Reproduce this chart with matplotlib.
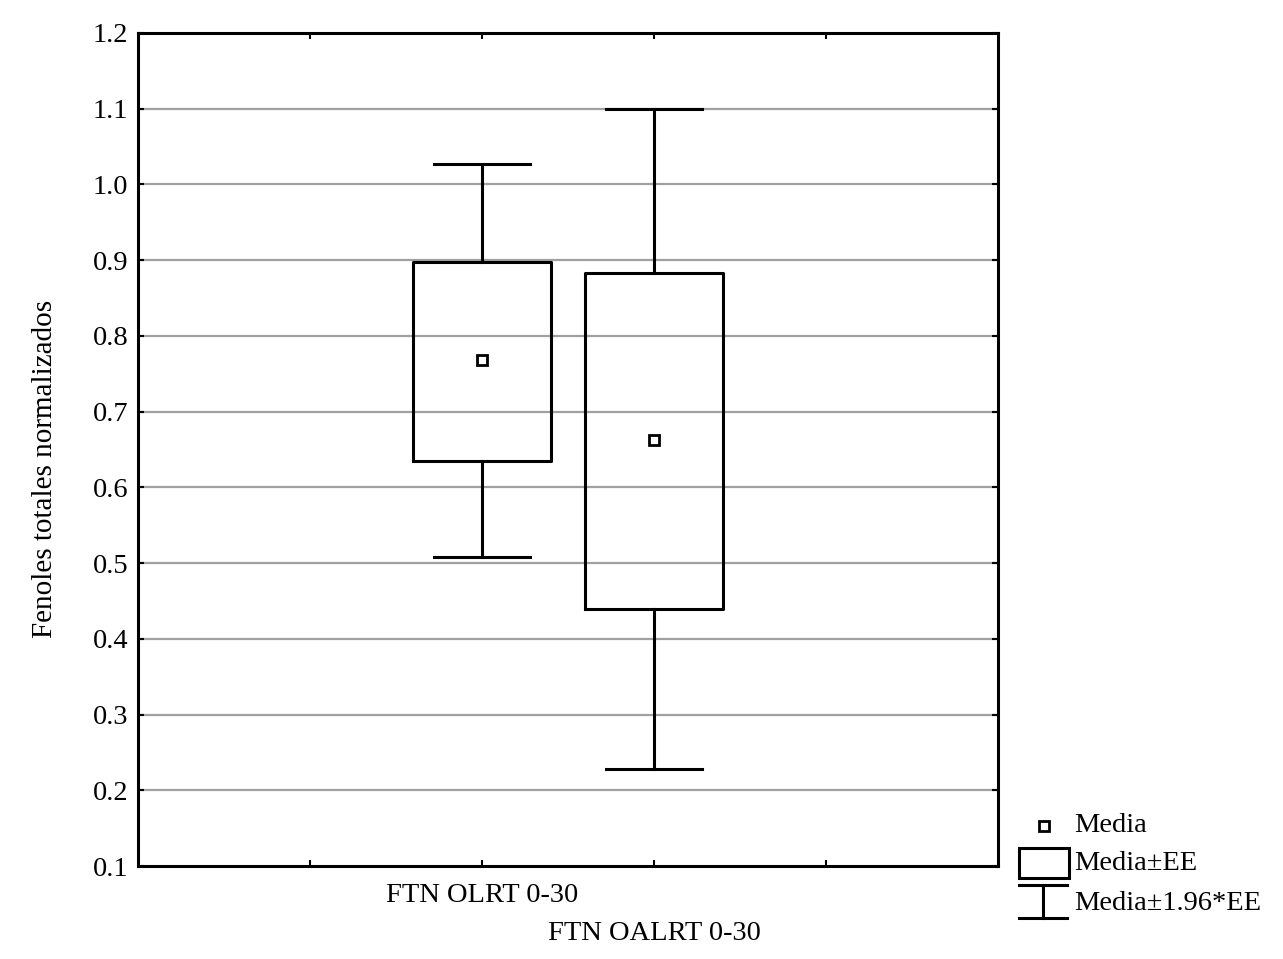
import matplotlib
matplotlib.use('Agg')
import matplotlib.pyplot as plt

plt.rcParams['font.family'] = ['Liberation Serif', 'DejaVu Serif']

# datos
grupos = ['FTN OLRT 0-30', 'FTN OALRT 0-30']
media = [0.768, 0.663]
ee_bajo = [0.635, 0.440]
ee_alto = [0.897, 0.883]
ci_bajo = [0.508, 0.228]
ci_alto = [1.027, 1.100]
posiciones = [2, 3]

fig = plt.figure(figsize=(12.83, 9.59), dpi=100)
ax = fig.add_axes([138 / 1283, 1 - 866 / 959, 860 / 1283, 833 / 959])

stats = []
for i in range(len(grupos)):
    stats.append({'med': media[i], 'q1': ee_bajo[i], 'q3': ee_alto[i],
                  'whislo': ci_bajo[i], 'whishi': ci_alto[i],
                  'mean': media[i], 'fliers': []})

ax.bxp(stats, positions=posiciones, widths=0.8, capwidths=0.56,
       showmeans=True, showfliers=False, patch_artist=False,
       boxprops=dict(color='k', linewidth=2.2),
       whiskerprops=dict(color='k', linewidth=2.2),
       capprops=dict(color='k', linewidth=2.2),
       medianprops=dict(linewidth=0),
       meanprops=dict(marker='s', markersize=7.5, markerfacecolor='white',
                      markeredgecolor='k', markeredgewidth=2))

ax.set_xlim(0, 5)
ax.set_ylim(0.1, 1.2)
ax.set_yticks([0.1, 0.2, 0.3, 0.4, 0.5, 0.6, 0.7, 0.8, 0.9, 1.0, 1.1, 1.2])
ax.set_yticklabels([f'{v:.1f}' for v in ax.get_yticks()])
ax.set_xticks([1, 2, 3, 4])
ax.set_xticklabels(['', '', '', ''])
# etiquetas escalonadas
ax.annotate(grupos[0], xy=(posiciones[0], 0), xycoords=('data', 'axes fraction'),
            xytext=(0, -30), textcoords='offset pixels', ha='center', va='center', fontsize=20.5)
ax.annotate(grupos[1], xy=(posiciones[1], 0), xycoords=('data', 'axes fraction'),
            xytext=(0, -68), textcoords='offset pixels', ha='center', va='center', fontsize=20.5)

ax.tick_params(direction='in', length=4, width=1.5, labelsize=20.5, top=True, right=True, pad=7)
for g in [0.2, 0.3, 0.4, 0.5, 0.6, 0.7, 0.8, 0.9, 1.0, 1.1]:
    ax.axhline(g, color='#a0a0a0', linewidth=1.6, zorder=0)
for s in ax.spines.values():
    s.set_linewidth(2.2)
ax.set_ylabel('Fenoles totales normalizados', fontsize=21)
ax.yaxis.set_label_coords(-0.093, 0.477)

# leyenda dibujada a mano
lax = fig.add_axes([0, 0, 1, 1])
lax.set_xlim(0, 1283)
lax.set_ylim(959, 0)
lax.axis('off')
lax.plot([1044], [826], marker='s', markersize=7.5, markerfacecolor='white',
         markeredgecolor='k', markeredgewidth=2)
lax.add_patch(plt.Rectangle((1019, 848), 50, 30, fill=False, edgecolor='k', linewidth=2.2))
lax.plot([1019, 1067], [885, 885], color='k', linewidth=2.2)
lax.plot([1043, 1043], [885, 918], color='k', linewidth=2.2)
lax.plot([1019, 1067], [918, 918], color='k', linewidth=2.2)
lax.text(1074, 826, 'Media', fontsize=20.5, va='center')
lax.text(1074, 863, 'Media±EE', fontsize=20.5, va='center')
lax.text(1074, 903, 'Media±1.96*EE', fontsize=20.5, va='center')

fig.savefig('out.png', dpi=100, facecolor='white')
